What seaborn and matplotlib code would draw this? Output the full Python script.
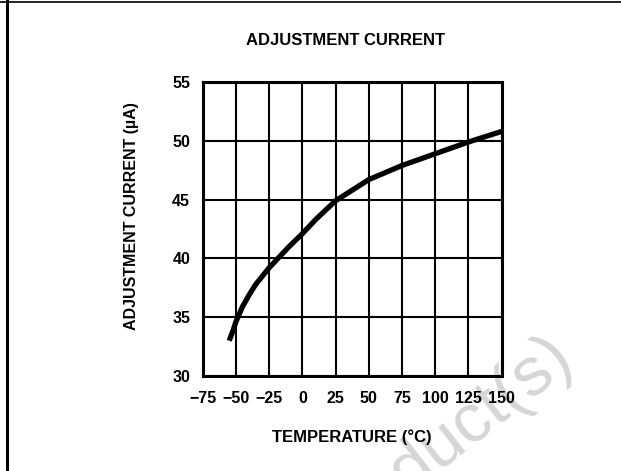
import numpy as np
import pandas as pd
import matplotlib
matplotlib.use("Agg")
import matplotlib.pyplot as plt
from matplotlib.lines import Line2D
import seaborn as sns

# values
temperature = [-55, -52, -50, -45, -40, -35, -30, -25, -10, 0, 10, 25, 50, 75, 100, 125, 150]
adj_current = [33.0, 33.9, 34.6, 35.9, 36.9, 37.8, 38.5, 39.2, 41.0, 42.1, 43.3, 44.9, 46.7, 47.9, 48.9, 49.9, 50.8]
x_ticks = [-75, -50, -25, 0, 25, 50, 75, 100, 125, 150]
y_ticks = [30, 35, 40, 45, 50, 55]

sns.set_theme(style="white")
plt.rcParams['font.family'] = ['Liberation Sans', 'DejaVu Sans']
plt.rcParams['axes.unicode_minus'] = True

df = pd.DataFrame({'temp': temperature, 'current': adj_current})

fig = plt.figure(figsize=(6.21, 4.71), dpi=100)
ax = fig.add_axes([0.3263, 0.2017, 0.4816, 0.6242])
ax.patch.set_alpha(0)

ax.set_xlim(-75, 150)
ax.set_ylim(30, 55)
ax.set_xticks(x_ticks)
ax.set_yticks(y_ticks)
ax.grid(True, color='black', linewidth=1.5)
ax.set_axisbelow(True)

sns.lineplot(data=df, x='temp', y='current', ax=ax, color='black',
             linewidth=3.8, solid_capstyle='butt', zorder=3)

for s in ax.spines.values():
    s.set_color('black')
    s.set_linewidth(2.2)

tick_font = ['Liberation Sans Narrow', 'Liberation Sans', 'DejaVu Sans']
ax.tick_params(axis='both', length=0, labelsize=11.5, labelcolor='black')
ax.tick_params(axis='y', pad=9)
ax.tick_params(axis='x', pad=11)
for lab in ax.get_xticklabels() + ax.get_yticklabels():
    lab.set_fontweight('bold')
    lab.set_family(tick_font)

ax.set_xlabel('TEMPERATURE (°C)', fontsize=12, fontweight='bold', labelpad=17)
ax.set_ylabel('ADJUSTMENT CURRENT (µA)', fontsize=11.5, fontweight='bold')
ax.yaxis.set_label_coords(-0.212, 0.544)
ax.xaxis.label.set_color('black')
ax.yaxis.label.set_color('black')

fig.text(0.557, 0.915, 'ADJUSTMENT CURRENT', ha='center', va='center',
         fontsize=12, fontweight='bold', color='black')

# watermark, behind the chart
fig.text(0.94, -0.18, 'Product(s)', ha='right', va='baseline', rotation=38,
         fontsize=50, color='#d6d6d6', zorder=-1)

# page frame
fig.add_artist(Line2D([7 / 621, 7 / 621], [0, 1], color='black', linewidth=2.2,
                      transform=fig.transFigure))
fig.add_artist(Line2D([0, 1], [1 - 1.5 / 471, 1 - 1.5 / 471], color='black', linewidth=1.2,
                      transform=fig.transFigure))

fig.savefig('out.png', dpi=100)
